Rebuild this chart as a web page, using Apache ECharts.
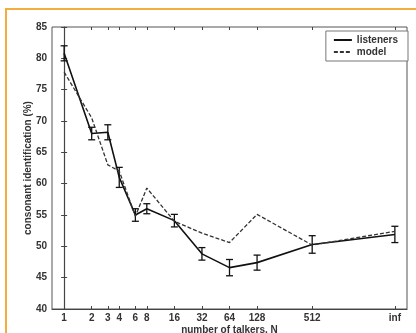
<!DOCTYPE html>
<html>
<head>
<meta charset="utf-8">
<script src="https://cdn.jsdelivr.net/npm/echarts@6/dist/echarts.min.js"></script>
<style>
  html, body { margin: 0; padding: 0; background: #fff; }
  #chart { width: 416px; height: 333px; }
</style>
</head>
<body>
<div id="chart"></div>
<script>
// tick labels and talker counts; "inf" is placed at 2^12 on the log2 axis
const tickLabels = ['1', '2', '3', '4', '6', '8', '16', '32', '64', '128', '512', 'inf'];
const talkers = [1, 2, 3, 4, 6, 8, 16, 32, 64, 128, 512, 4096];

// consonant identification (%)
const listeners = [80.8, 68.0, 68.2, 61.0, 55.0, 56.0, 54.1, 48.8, 46.6, 47.4, 50.3, 51.9];
const listenersErr = [1.2, 1.0, 1.2, 1.6, 1.0, 0.8, 1.0, 1.0, 1.3, 1.2, 1.4, 1.3];
const model = [77.8, 70.5, 63.0, 62.0, 54.8, 59.3, 54.0, 52.1, 50.6, 55.1, 50.2, 52.4];

const xPos = talkers.map((n) => Math.log2(n));
const font = "'Liberation Sans', Arial, sans-serif";
const ink = '#333';
const txt = { fontFamily: font, fontSize: 10, fontWeight: 'bold', color: ink };

const chart = echarts.init(document.getElementById('chart'));

chart.setOption({
    animation: false,
    graphic: [
        {
            type: 'rect',
            shape: { x: 6, y: 9, width: 430, height: 340 },
            style: { fill: 'none', stroke: '#f3ad3c', lineWidth: 2 },
            silent: true
        }
    ],
    grid: {
        left: 52, top: 27, right: 9, bottom: 24,
        outerBoundsMode: 'none',
        show: true, borderColor: '#555', borderWidth: 1
    },
    legend: {
        orient: 'vertical',
        right: 8,
        top: 31,
        itemWidth: 18,
        itemHeight: 10,
        itemGap: 2,
        padding: [4, 10, 4, 7],
        borderColor: '#777',
        borderWidth: 1,
        backgroundColor: '#fff',
        itemStyle: { opacity: 0 },
        textStyle: txt,
        data: ['listeners', 'model']
    },
    xAxis: [
        {
            type: 'value',
            min: -0.44,
            max: 12.44,
            name: 'number of talkers, N',
            nameLocation: 'middle',
            nameGap: 16,
            nameMoveOverlap: false,
            nameTextStyle: txt,
            axisLine: { lineStyle: { color: '#444', width: 1.2 } },
            splitLine: { show: false },
            axisTick: { inside: true, length: 3, customValues: xPos, lineStyle: { color: '#444' } },
            axisLabel: Object.assign({
                customValues: xPos,
                margin: 4,
                formatter: (v) => tickLabels[xPos.indexOf(v)]
            }, txt)
        },
        {
            type: 'value',
            position: 'top',
            min: -0.44,
            max: 12.44,
            axisLine: { show: false },
            splitLine: { show: false },
            axisTick: { inside: true, length: 3, customValues: xPos, lineStyle: { color: '#444' } },
            axisLabel: { show: false }
        }
    ],
    yAxis: [
        {
            type: 'value',
            min: 40,
            max: 85,
            interval: 5,
            name: 'consonant identification (%)',
            nameLocation: 'middle',
            nameGap: 19,
            nameMoveOverlap: false,
            nameTextStyle: txt,
            axisLine: { show: true, lineStyle: { color: '#444', width: 1.2 } },
            splitLine: { show: false },
            axisTick: { show: true, inside: true, length: 3, lineStyle: { color: '#444' } },
            axisLabel: Object.assign({ margin: 5 }, txt)
        },
        {
            type: 'value',
            position: 'right',
            min: 40,
            max: 85,
            interval: 5,
            axisLine: { show: false },
            splitLine: { show: false },
            axisTick: { show: true, inside: true, length: 3, lineStyle: { color: '#444' } },
            axisLabel: { show: false }
        }
    ],
    series: [
        {
            name: 'errors',
            type: 'custom',
            data: xPos.map((x, i) => [x, listeners[i], listenersErr[i]]),
            renderItem: (params, api) => {
                const x = api.value(0);
                const y = api.value(1);
                const e = api.value(2);
                const top = api.coord([x, y + e]);
                const bot = api.coord([x, y - e]);
                const cap = 3.5;
                const style = { stroke: '#111', lineWidth: 1.3 };
                return {
                    type: 'group',
                    children: [
                        { type: 'line', shape: { x1: top[0], y1: top[1], x2: bot[0], y2: bot[1] }, style },
                        { type: 'line', shape: { x1: top[0] - cap, y1: top[1], x2: top[0] + cap, y2: top[1] }, style },
                        { type: 'line', shape: { x1: bot[0] - cap, y1: bot[1], x2: bot[0] + cap, y2: bot[1] }, style }
                    ]
                };
            },
            z: 3
        },
        {
            name: 'listeners',
            type: 'line',
            data: xPos.map((x, i) => [x, listeners[i]]),
            symbol: 'none',
            lineStyle: { color: '#111', width: 1.6, type: 'solid' },
            itemStyle: { color: '#111' },
            z: 4
        },
        {
            name: 'model',
            type: 'line',
            data: xPos.map((x, i) => [x, model[i]]),
            symbol: 'none',
            lineStyle: { color: '#333', width: 1.3, type: [4, 2] },
            itemStyle: { color: '#333' },
            z: 4
        }
    ]
});
</script>
</body>
</html>
